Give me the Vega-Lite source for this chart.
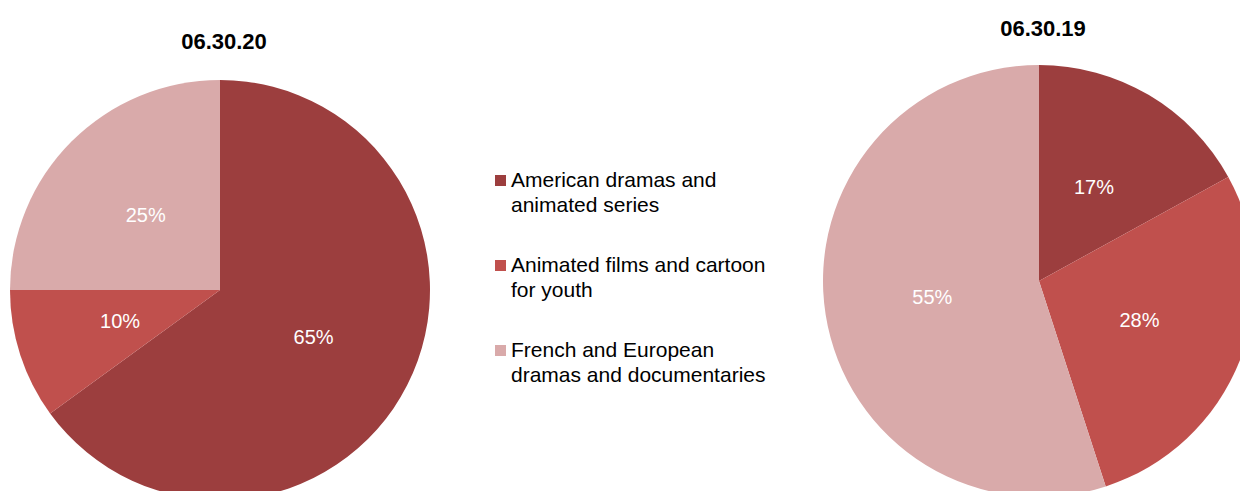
{
  "$schema": "https://vega.github.io/schema/vega-lite/v6.json",
  "autosize": {"type": "pad"},
  "padding": 0,
  "background": "white",
  "config": {"view": {"stroke": null}, "font": "Liberation Sans"},
  "data": {
    "values": [
      {"date": "06.30.20", "category": "American dramas and animated series", "share": 0.65},
      {"date": "06.30.20", "category": "Animated films and cartoon for youth", "share": 0.10},
      {"date": "06.30.20", "category": "French and European dramas and documentaries", "share": 0.25},
      {"date": "06.30.19", "category": "American dramas and animated series", "share": 0.17},
      {"date": "06.30.19", "category": "Animated films and cartoon for youth", "share": 0.28},
      {"date": "06.30.19", "category": "French and European dramas and documentaries", "share": 0.55}
    ]
  },
  "spacing": 384,
  "bounds": "flush",
  "hconcat": [
    {
      "width": 440,
      "height": 580,
      "title": {"text": "06.30.20", "fontSize": 22, "fontWeight": "bold", "font": "Liberation Sans", "color": "black", "offset": -71, "baseline": "alphabetic", "anchor": "middle", "frame": "group", "dx": 4},
      "transform": [{"filter": "datum.date == '06.30.20'"}],
      "encoding": {
        "theta": {"field": "share", "type": "quantitative", "stack": true},
        "order": {"field": "category", "type": "ordinal", "sort": "ascending"}
      },
      "layer": [
        {
          "mark": {"type": "arc", "outerRadius": 210},
          "encoding": {
            "color": {
              "field": "category", "type": "nominal",
              "scale": {"domain": ["American dramas and animated series", "Animated films and cartoon for youth", "French and European dramas and documentaries"], "range": ["#9C3E3E", "#C0504D", "#D9AAAA"]},
              "legend": {
                "orient": "none", "legendX": 490, "legendY": 170, "title": null, "padding": 0,
                "symbolType": "square", "symbolSize": 121, "symbolStrokeWidth": 0,
                "labelFontSize": 21, "labelFont": "Liberation Sans", "labelColor": "black", "labelOffset": 0, "labelLimit": 400,
                "rowPadding": 38,
                "labelExpr": "datum.label == 'American dramas and animated series' ? ['American dramas and', 'animated series'] : datum.label == 'Animated films and cartoon for youth' ? ['Animated films and cartoon', 'for youth'] : ['French and European', 'dramas and documentaries']",
                "encode": {"labels": {"update": {"lineHeight": {"value": 25}}}}
              }
            }
          }
        },
        {
          "mark": {"type": "text", "radius": 105, "fill": "white", "fontSize": 20, "font": "Liberation Sans"},
          "encoding": {"detail": {"field": "category"}, "text": {"field": "share", "type": "quantitative", "format": ".0%"}}
        }
      ]
    },
    {
      "width": 430,
      "height": 562,
      "title": {"text": "06.30.19", "fontSize": 22, "fontWeight": "bold", "font": "Liberation Sans", "color": "black", "offset": -58, "baseline": "alphabetic", "anchor": "middle", "frame": "group", "dx": 4},
      "transform": [{"filter": "datum.date == '06.30.19'"}],
      "encoding": {
        "theta": {"field": "share", "type": "quantitative", "stack": true},
        "order": {"field": "category", "type": "ordinal", "sort": "ascending"}
      },
      "layer": [
        {
          "mark": {"type": "arc", "outerRadius": 216},
          "encoding": {"color": {"field": "category", "type": "nominal"}}
        },
        {
          "mark": {"type": "text", "radius": 108, "fill": "white", "fontSize": 20, "font": "Liberation Sans"},
          "encoding": {"detail": {"field": "category"}, "text": {"field": "share", "type": "quantitative", "format": ".0%"}}
        }
      ]
    }
  ]
}
